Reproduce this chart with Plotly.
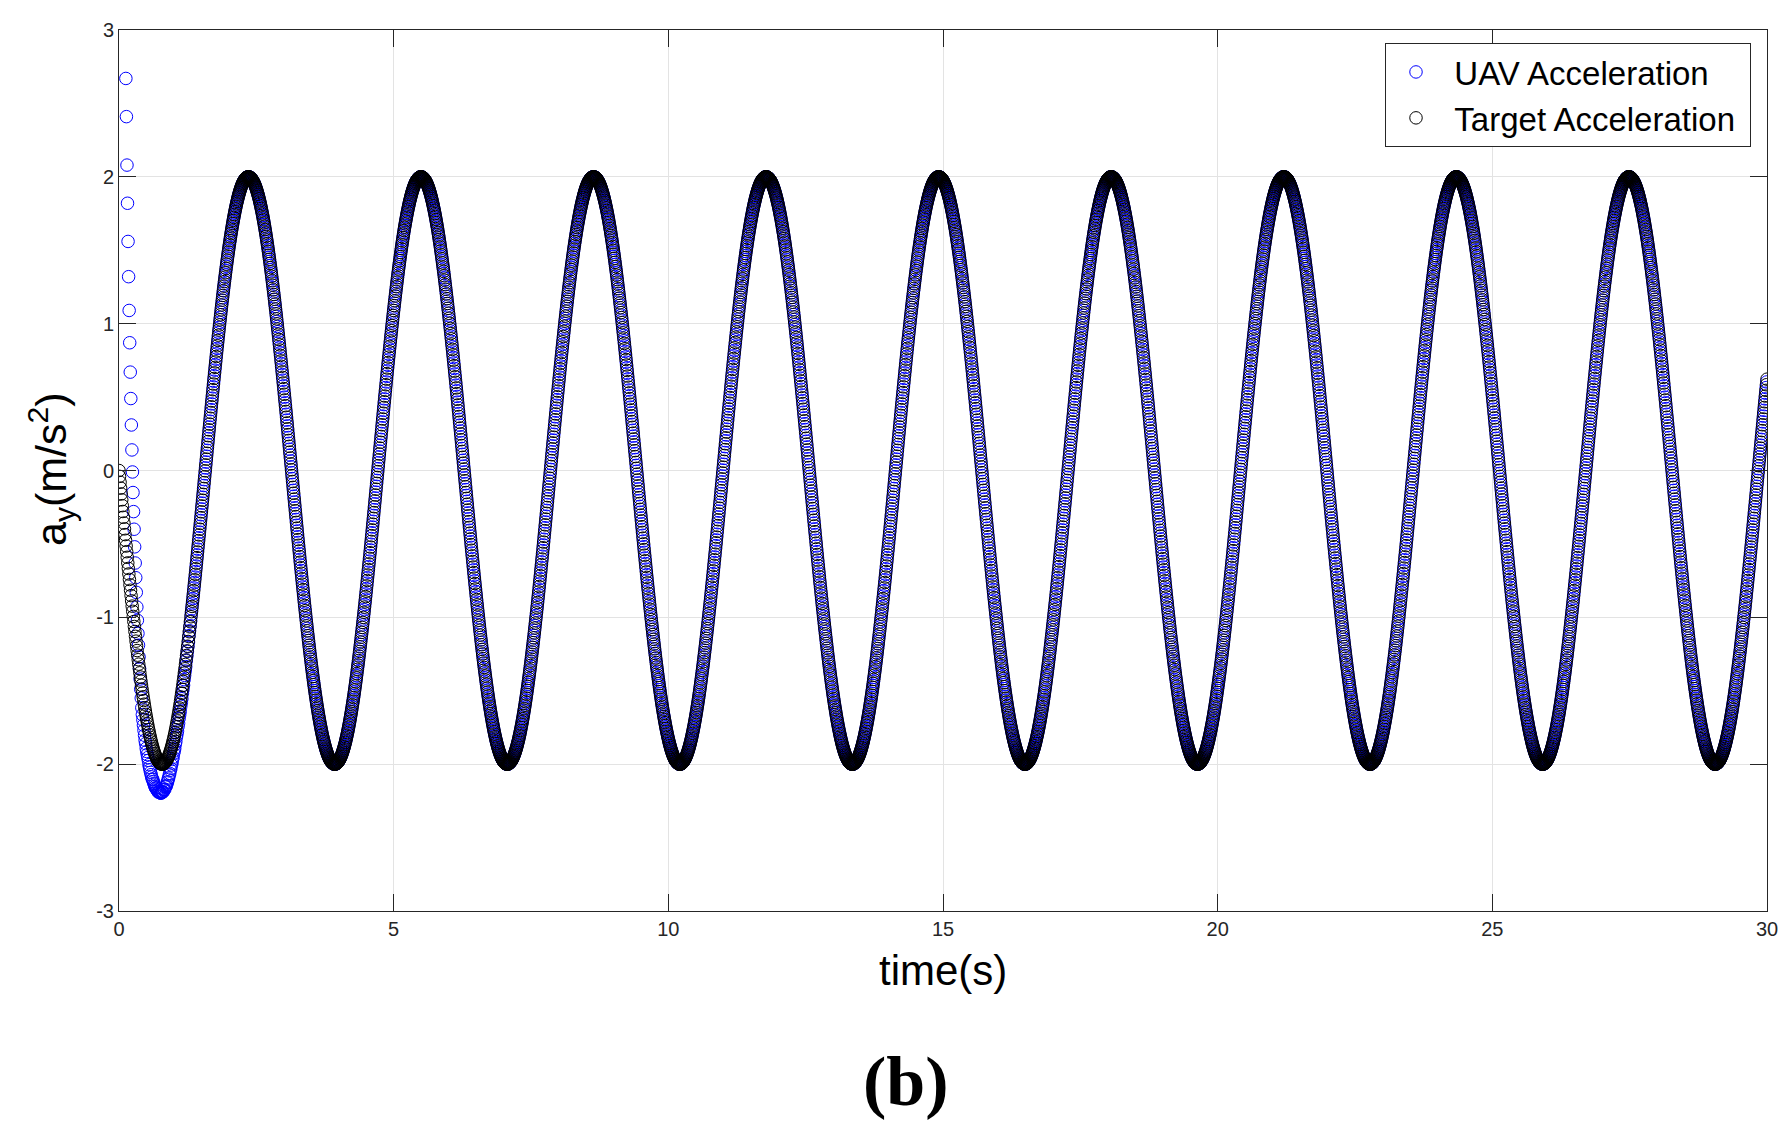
import numpy as np
import plotly.graph_objects as go

# ---------------- data ----------------
x_ticks = [0, 5, 10, 15, 20, 25, 30]
y_ticks = [-3, -2, -1, 0, 1, 2, 3]

# Target acceleration: sinusoid of amplitude 2 m/s^2, peaks
target_amplitude = 2.0
target_peak_times = [2.36, 5.50, 8.64, 11.78, 14.92, 18.06, 21.21, 24.35, 27.49]
sample_step = 0.01
t_end = 30.0

# UAV acceleration: separately visible transient points (first one at t ~ 0.125 s)
uav_start = 0.125
uav_transient = [2.67, 2.41, 2.08, 1.82, 1.56, 1.32, 1.09, 0.87, 0.67, 0.49,
                 0.31, 0.14, -0.01, -0.15, -0.28, -0.40, -0.52, -0.63, -0.73, -0.83,
                 -0.93, -1.02, -1.11, -1.19, -1.27, -1.35, -1.42, -1.49, -1.55]
# UAV deviation from target afterwards (dip to about -2.2 near t = 0.75 s)
uav_offset = [-0.14, -0.16, -0.17, -0.18, -0.19, -0.20, -0.21, -0.21, -0.22, -0.22,
              -0.22, -0.22, -0.22, -0.23, -0.23, -0.23, -0.23, -0.23, -0.23, -0.23,
              -0.22, -0.22, -0.22, -0.22, -0.22, -0.22, -0.21, -0.21, -0.21, -0.21,
              -0.21, -0.20, -0.20, -0.20, -0.20, -0.20, -0.19, -0.19, -0.19, -0.19,
              -0.18, -0.18, -0.18, -0.17, -0.17, -0.17, -0.16, -0.16, -0.15, -0.15,
              -0.14, -0.14, -0.13, -0.13, -0.12, -0.12, -0.11, -0.11, -0.10, -0.10,
              -0.10, -0.09, -0.09, -0.08, -0.08, -0.08, -0.07, -0.07, -0.06, -0.06,
              -0.06, -0.05, -0.05, -0.05, -0.04, -0.04, -0.04, -0.03, -0.03, -0.03,
              -0.03, -0.02, -0.02, -0.02, -0.02, -0.02, -0.01, -0.01, -0.01, -0.01]

legend_names = ["UAV Acceleration", "Target Acceleration"]
colors = ["#0000ff", "#000000"]

# ---------------- build series ----------------
period = float(np.mean(np.diff(target_peak_times)))


def target_at(t):
    return -target_amplitude * np.sin(2 * np.pi * t / period)


n_t = int(round(t_end / sample_step)) + 1
t_target = np.arange(n_t) * sample_step
a_target = target_at(t_target)

n_u = int(round((t_end - uav_start) / sample_step))
t_uav = uav_start + np.arange(n_u) * sample_step
a_uav = target_at(t_uav)
n_tr = len(uav_transient)
a_uav[:n_tr] = uav_transient
a_uav[n_tr:n_tr + len(uav_offset)] += np.array(uav_offset)

# ---------------- figure ----------------
# page has an 8px body margin, so figure coordinates = page coordinates - 8
OFF = 8
W, H = 1791 - 2 * OFF, 1135 - 2 * OFF
L, R, T, B = 119, 1767, 30, 911          # plot area in page pixels
pw, ph = R - L, B - T
NB = "\u00a0"

fig = go.Figure()
fig.add_trace(go.Scatter(
    x=t_uav, y=a_uav, mode="markers", name=NB * 2 + legend_names[0] + NB,
    marker=dict(symbol="circle-open", size=12.5, color=colors[0], line=dict(width=1, color=colors[0])),
))
fig.add_trace(go.Scatter(
    x=t_target, y=a_target, mode="markers", name=NB * 2 + legend_names[1] + NB,
    marker=dict(symbol="circle-open", size=12.5, color=colors[1], line=dict(width=1, color=colors[1])),
))

axis_common = dict(
    showline=True, linecolor="#262626", linewidth=1, mirror="ticks",
    ticks="inside", ticklen=17, tickwidth=1, tickcolor="#262626",
    showgrid=True, gridcolor="#e3e3e3", gridwidth=1, zeroline=False,
    automargin=False,
    tickfont=dict(family="Liberation Sans, Arial", size=20, color="#262626"),
)

fig.update_layout(
    width=W, height=H,
    margin=dict(l=L - OFF, r=W - (R - OFF), t=T - OFF, b=H - (B - OFF), autoexpand=False),
    paper_bgcolor="white", plot_bgcolor="white",
    showlegend=True,
    legend=dict(
        x=(1751 - L) / pw, y=(B - 43) / ph, xanchor="right", yanchor="top",
        bgcolor="white", bordercolor="#262626", borderwidth=1,
        font=dict(family="Liberation Sans, Arial", size=33, color="black"),
        itemsizing="trace", indentation=10, tracegroupgap=0,
    ),
    xaxis=dict(range=[0, 30], tickvals=x_ticks, ticktext=[str(v) for v in x_ticks], **axis_common),
    yaxis=dict(range=[-3, 3], tickvals=y_ticks, ticktext=[str(v) for v in y_ticks], **axis_common),
    annotations=[
        dict(text="time(s)", x=0.5, y=(B - 971) / ph, xref="paper", yref="paper",
             xanchor="center", yanchor="middle", showarrow=False,
             font=dict(family="Liberation Sans, Arial", size=42, color="black")),
        dict(text="a<sub>y</sub>(m/s<sup>2</sup>)", x=(51 - L) / pw, y=(B - 469) / ph,
             xref="paper", yref="paper", xanchor="center", yanchor="middle",
             textangle=-90, showarrow=False,
             font=dict(family="Liberation Sans, Arial", size=43, color="black")),
        dict(text="<b>(b)</b>", x=(906 - L) / pw, y=(B - 1081) / ph, xref="paper", yref="paper",
             xanchor="center", yanchor="middle", showarrow=False,
             font=dict(family="Liberation Serif, Times New Roman", size=70, color="black")),
    ],
)

fig.write_html("out.html")
